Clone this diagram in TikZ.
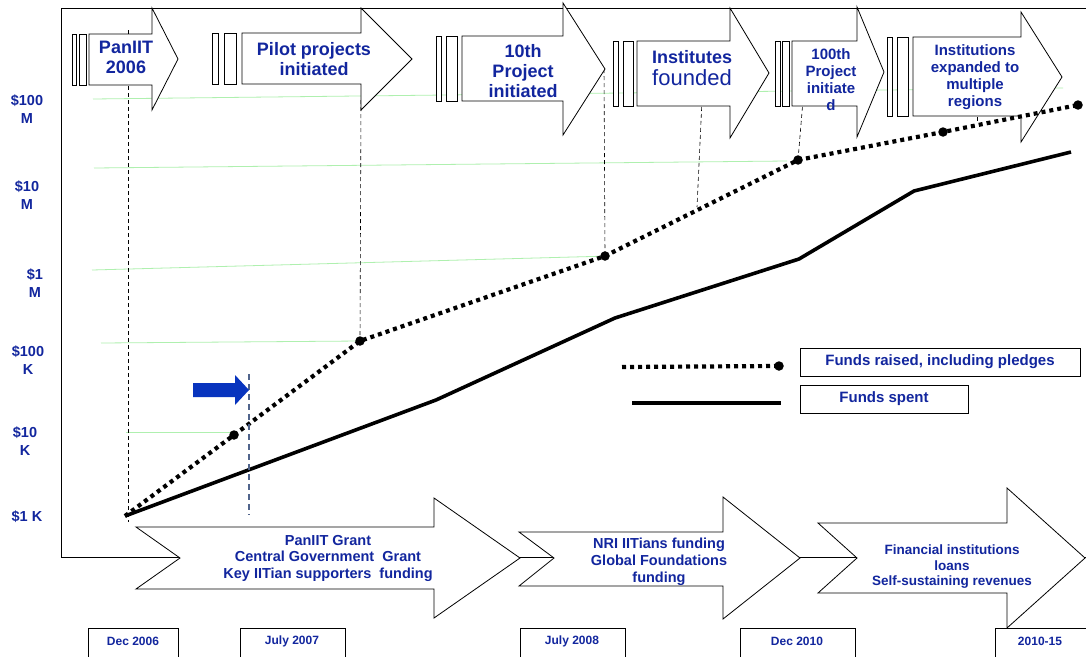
\documentclass[tikz,border=0pt]{standalone}
\usepackage{fontspec}
\setmainfont{Liberation Sans}
\definecolor{txtblue}{RGB}{18,38,158}
\definecolor{markblue}{RGB}{8,52,190}
\definecolor{gridgreen}{RGB}{175,240,175}
\definecolor{guideblue}{RGB}{80,100,140}
\tikzset{
  outline/.style={draw=black, line width=0.8pt, fill=white, line join=miter},
  lbl/.style={text=txtblue, align=center, inner sep=0pt},
  guideline/.style={draw=black, line width=0.6pt, dash pattern=on 4pt off 3pt},
  gridline/.style={draw=gridgreen, line width=0.8pt},
  raised/.style={line width=4.2pt, dash pattern=on 4pt off 4pt},
  spent/.style={line width=3.6pt},
  ptdot/.style={circle, fill=black, inner sep=0pt, minimum size=9.5pt},
  legbox/.style={draw=black, line width=0.8pt, minimum height=28pt, inner sep=0pt, text=txtblue,
    font=\fontsize{15}{17}\selectfont\bfseries},
  datebox/.style={draw=black, line width=0.8pt, fill=white},
  datetxt/.style={text=txtblue, inner sep=0pt, font=\fontsize{12}{14}\selectfont\bfseries}
}
\begin{document}
\begin{tikzpicture}[x=1pt,y=-1pt]
\useasboundingbox (0,0) rectangle (1086,656);
\fill[white] (0,0) rectangle (1086,656);

% chart frame
\draw[line width=0.8pt] (1086,8) -- (61,8) -- (61,557) -- (1086,557);

% value scale
\begin{scope}[every node/.style={lbl, font=\fontsize{14.5}{17.5}\selectfont\bfseries}]
\node (y1) at (27,109) {\$100\\M};
\node (y2) at (27,195) {\$10\\M};
\node (y3) at (35,283) {\$1\\M};
\node (y4) at (28,360) {\$100\\K};
\node (y5) at (25,441) {\$10\\K};
\node (y6) at (27,517) {\$1 K};
\end{scope}

% light grid lines
\draw[gridline] (93,99) -- (1063,88);
\draw[gridline] (94,168) -- (787,161);
\draw[gridline] (92,270) -- (610,256);
\draw[gridline] (101,343) -- (360,341);
\draw[gridline] (126,432) -- (236,432);

% data points
\coordinate (f0) at (125,516);
\coordinate (f1) at (234,435);
\coordinate (f2) at (360,341);
\coordinate (f3) at (605,256);
\coordinate (f4) at (798,160);
\coordinate (f5) at (943,132);
\coordinate (f6) at (1078,105);
\coordinate (s1) at (436,400);
\coordinate (s2) at (615,318);
\coordinate (s3) at (799,259);
\coordinate (s4) at (914,191);
\coordinate (s5) at (1071,152);

% milestone guides
\coordinate (m1) at (128,30);  \coordinate (m1e) at (128,522);
\coordinate (m2) at (361,100);
\coordinate (m3) at (604,69);
\coordinate (m4) at (702,100); \coordinate (m4e) at (697,207);
\coordinate (m5) at (803,100);
\coordinate (m6) at (977,110); \coordinate (m6e) at (977,122);
\draw[guideline] (m1) -- (m1e);
\draw[guideline] (m2) -- (f2);
\draw[guideline] (m3) -- (f3);
\draw[guideline] (m4) -- (m4e);
\draw[guideline] (m5) -- (f4);
\draw[guideline] (m6) -- (m6e);

% milestone arrows
\foreach \qa/\qb/\qc/\qd/\qe/\qf/\qg/\qh/\qi/\qj/\qk in {
  72/76/79/86/89/34/85/152/8/178/59,
  212/218/224/236/242/33/84/361/8/412/59,
  436/441/446/457/462/36/101/563/3/605/69,
  613/618/623/633/637/41/106/730/8/769/73,
  775/780/782/789/792/41/106/857/7/884/72,
  887/892/897/908/913/37/116/1021/12/1062/77}{
  \draw[outline] (\qa,\qf) rectangle (\qb,\qg);
  \draw[outline] (\qc,\qf) rectangle (\qd,\qg);
  \draw[outline] (\qe,\qf) -- (\qh,\qf) -- (\qh,\qi) -- (\qj,\qk)
     -- (\qh,{2*\qk-\qi}) -- (\qh,\qg) -- (\qe,\qg) -- cycle;
}
\node[lbl, font=\fontsize{18}{20}\selectfont\bfseries] (t1) at (126,57) {PanIIT\\2006};
\node[lbl, font=\fontsize{18}{20}\selectfont\bfseries] (t2) at (314,59) {Pilot projects\\initiated};
\node[lbl, font=\fontsize{18}{20}\selectfont\bfseries] (t3) at (523,71) {10th\\Project\\initiated};
\node[lbl, font=\fontsize{18}{20}\selectfont\bfseries] (t4) at (692,57) {Institutes};
\node[lbl, font=\fontsize{22}{24}\selectfont] (t4b) at (692,78) {founded};
\node[lbl, font=\fontsize{15}{17}\selectfont\bfseries] (t5) at (831,80) {100th\\Project\\initiate\\d};
\node[lbl, font=\fontsize{15}{17}\selectfont\bfseries] (t6) at (975,77) {Institutions\\expanded to\\multiple\\regions};

% funds spent
\draw[spent] (f0) -- (s1) -- (s2) -- (s3) -- (s4) -- (s5);
% funds raised
\draw[raised] (f0) -- (f1) -- (f2) -- (f3) -- (f4) -- (f5) -- (f6);
\foreach \p in {f1,f2,f3,f4,f5,f6} \node[ptdot] at (\p) {};

% July 2007 marker
\coordinate (j1) at (249,374); \coordinate (j2) at (249,515);
\draw[guideblue, line width=1.2pt, dash pattern=on 6pt off 4pt] (j1) -- (j2);
\fill[markblue] (193,383) -- (235,383) -- (235,375) -- (249,390) -- (235,405) -- (235,397) -- (193,397) -- cycle;

% legend
\coordinate (la) at (622,367); \coordinate (lb) at (779,366);
\coordinate (lc) at (632,403); \coordinate (ld) at (781,403);
\draw[raised] (la) -- (lb);
\node[ptdot] (ldot) at (lb) {};
\draw[spent] (lc) -- (ld);
\node[legbox, minimum width=280pt] (leg1) at (940,362) {Funds raised, including pledges};
\node[legbox, minimum width=168pt] (leg2) at (884,399) {Funds spent};

% funding phases
\draw[outline] (136,527) -- (434,527) -- (434,498) -- (520,558) -- (434,618) -- (434,589) -- (136,589) -- (180,558) -- cycle;
\draw[outline] (519,532) -- (723,532) -- (723,497) -- (800,558) -- (723,619) -- (723,586) -- (519,586) -- (554,558) -- cycle;
\draw[outline] (818,523) -- (1007,523) -- (1007,488) -- (1085,558) -- (1007,628) -- (1007,593) -- (818,593) -- (857,558) -- cycle;
\node[lbl, font=\fontsize{14.5}{16.5}\selectfont\bfseries] (b1) at (328,558)
  {PanIIT Grant\\Central Government~~Grant\\Key IITian supporters~~funding};
\node[lbl, font=\fontsize{14.5}{17}\selectfont\bfseries] (b2) at (659,562)
  {NRI IITians funding\\Global Foundations\\funding};
\node[lbl, font=\fontsize{13.5}{15.5}\selectfont\bfseries] (b3) at (952,567)
  {Financial institutions\\loans\\Self-sustaining revenues};

% dates
\foreach \xa/\xb in {88/178, 240/345, 520/625, 740/855, 995/1100}{
  \draw[datebox] (\xa,628) rectangle (\xb,665);
}
\node[datetxt] (d1) at (133,641) {Dec 2006};
\node[datetxt] (d2) at (292,641) {July 2007};
\node[datetxt] (d3) at (572,641) {July 2008};
\node[datetxt] (d4) at (797,641) {Dec 2010};
\node[datetxt] (d5) at (1040,641) {2010-15};
\end{tikzpicture}
\end{document}
